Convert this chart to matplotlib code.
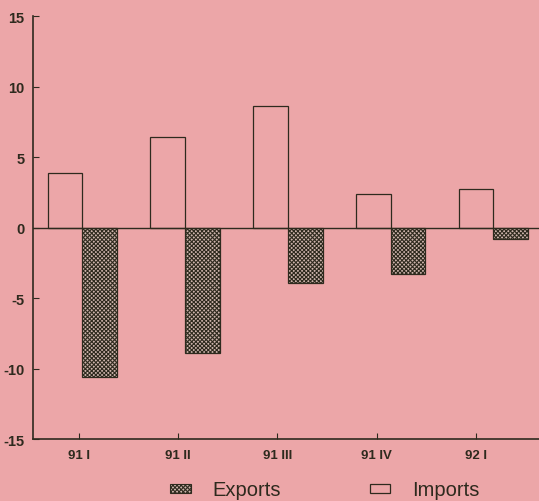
import numpy as np
import matplotlib
matplotlib.use('Agg')
import matplotlib.pyplot as plt
from matplotlib.patches import Patch
from matplotlib import font_manager

quarters = ['91 I', '91 II', '91 III', '91 IV', '92 I']
imports = [3.9, 6.4, 8.6, 2.4, 2.7]
exports = [-10.6, -8.9, -3.9, -3.3, -0.8]

bg = '#eca6a8'
ink = '#2e2a1e'
installed = {f.name for f in font_manager.fontManager.ttflist}
narrow = 'Liberation Sans Narrow' if 'Liberation Sans Narrow' in installed else 'Liberation Sans'
plt.rcParams['font.family'] = [narrow, 'DejaVu Sans']
plt.rcParams['axes.unicode_minus'] = False
plt.rcParams['hatch.linewidth'] = 0.8

fig = plt.figure(figsize=(5.39, 5.02), dpi=100, facecolor=bg)
ax = fig.add_axes([0.0612, 0.1235, 0.9388, 0.8425], facecolor=bg)

x = np.arange(len(quarters))
w = 0.338
hatch_face = '#cdb4ac'
ax.bar(x - w / 2, imports, w, facecolor=bg, edgecolor=ink, linewidth=0.9)
ax.bar(x + w / 2, exports, w, facecolor=hatch_face, edgecolor=ink,
       linewidth=0.9, hatch='xxxxxxxx')
ax.axhline(0, color=ink, linewidth=1.0)

ax.set_ylim(-15, 15)
ax.set_xlim(-0.482, 4.445)
ax.set_yticks([-15, -10, -5, 0, 5, 10, 15])
ax.set_xticks(x * 0.966 - 0.034)
ax.set_xticklabels(quarters)
for s in ['top', 'right']:
    ax.spines[s].set_visible(False)
for s in ['left', 'bottom']:
    ax.spines[s].set_color(ink)
    ax.spines[s].set_linewidth(1.2)
ax.tick_params(axis='y', direction='in', length=4, color=ink, labelsize=10.5, pad=6)
ax.tick_params(axis='x', direction='in', length=4, color=ink, labelsize=9.5, pad=7)
for lab in ax.get_xticklabels() + ax.get_yticklabels():
    lab.set_fontweight('bold')
    lab.set_color(ink)

handles = [Patch(facecolor=hatch_face, edgecolor=ink, hatch='xxxxxxxx', linewidth=0.8),
           Patch(facecolor=bg, edgecolor=ink, linewidth=0.9)]
fig.legend(handles, ['Exports', 'Imports'], loc='center', bbox_to_anchor=(0.603, 0.022),
           ncol=2, frameon=False, fontsize=14.5, handlelength=1.0, handleheight=0.3,
           handletextpad=1.1, columnspacing=4.4, labelcolor=ink)

fig.savefig('out.png', dpi=100, facecolor=bg)
